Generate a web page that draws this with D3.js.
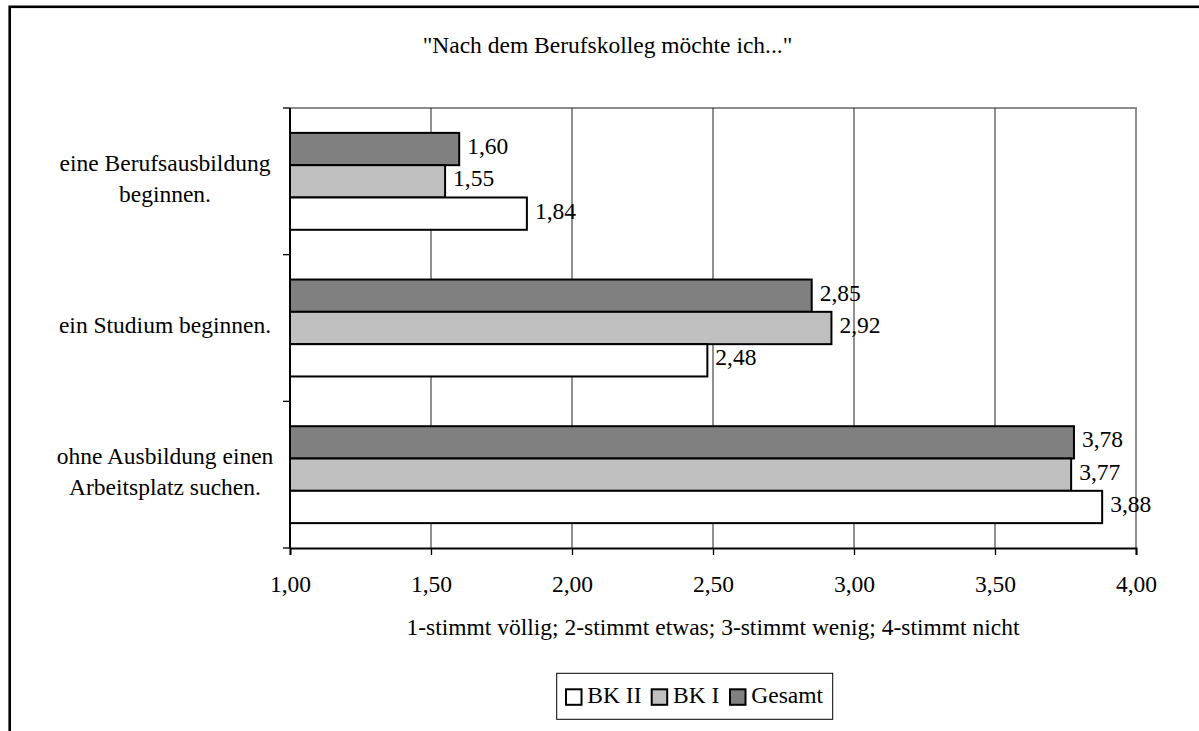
<!DOCTYPE html>
<html>
<head>
<meta charset="utf-8">
<script src="https://cdn.jsdelivr.net/npm/d3@7"></script>
<style>
  html, body { margin: 0; padding: 0; background: #fff; }
  svg { display: block; }
  text { font-family: "Liberation Serif", "Times New Roman", serif; fill: #000; }
</style>
</head>
<body>
<svg id="chart" width="1199" height="731"></svg>
<script>
// Survey answers: "Nach dem Berufskolleg möchte ich..."
const categories = [
  "eine Berufsausbildung beginnen.",
  "ein Studium beginnen.",
  "ohne Ausbildung einen Arbeitsplatz suchen."
];
const categoryLines = [
  ["eine Berufsausbildung", "beginnen."],
  ["ein Studium beginnen."],
  ["ohne Ausbildung einen", "Arbeitsplatz suchen."]
];
const seriesNames = ["Gesamt", "BK I", "BK II"];
const gesamt = [1.60, 2.85, 3.78];
const bk1 = [1.55, 2.92, 3.77];
const bk2 = [1.84, 2.48, 3.88];
const xTicks = [1.0, 1.5, 2.0, 2.5, 3.0, 3.5, 4.0];
const legendOrder = ["BK II", "BK I", "Gesamt"];

const seriesValues = { "Gesamt": gesamt, "BK I": bk1, "BK II": bk2 };
const seriesFill = { "Gesamt": "#808080", "BK I": "#c0c0c0", "BK II": "#ffffff" };

const fmt = v => d3.format(".2f")(v).replace(".", ",");
const FS = 23.5;

const svg = d3.select("#chart");

// outer frame (open to the right and bottom)
svg.append("rect")
  .attr("x", 9.7).attr("y", 6.8)
  .attr("width", 1300).attr("height", 900)
  .attr("fill", "none").attr("stroke", "#000").attr("stroke-width", 2.6);

const plot = { left: 290, right: 1136, top: 108, bottom: 548 };

const x = d3.scaleLinear().domain([1, 4]).range([plot.left, plot.right]);
const y = d3.scaleBand().domain(categories).range([plot.top, plot.bottom]).padding(0);
const ySeries = d3.scaleBand().domain(seriesNames).range([0, y.bandwidth()])
  .paddingInner(0).paddingOuter(0.77);

// plot area border (top & right)
svg.append("path")
  .attr("d", `M${plot.left},${plot.top}H${plot.right}V${plot.bottom}`)
  .attr("fill", "none").attr("stroke", "#8c8c8c").attr("stroke-width", 2);

// vertical gridlines
svg.append("g").selectAll("line")
  .data(xTicks.slice(1, -1))
  .join("line")
  .attr("x1", d => x(d)).attr("x2", d => x(d))
  .attr("y1", plot.top).attr("y2", plot.bottom)
  .attr("stroke", "#222").attr("stroke-width", 1);

// bars with value labels
categories.forEach((cat, i) => {
  const g = svg.append("g").attr("transform", `translate(0,${y(cat)})`);
  seriesNames.forEach(s => {
    const v = seriesValues[s][i];
    g.append("rect")
      .attr("x", x(1))
      .attr("y", ySeries(s))
      .attr("width", x(v) - x(1))
      .attr("height", ySeries.bandwidth())
      .attr("fill", seriesFill[s])
      .attr("stroke", "#000").attr("stroke-width", 2);
    g.append("text")
      .attr("x", x(v) + 8)
      .attr("y", ySeries(s) + ySeries.bandwidth() / 2 + 5)
      .attr("font-size", FS)
      .text(fmt(v));
  });
});

// x axis
const xAxis = d3.axisBottom(x).tickValues(xTicks).tickSize(7).tickFormat(fmt);
const gx = svg.append("g").attr("transform", `translate(0,${plot.bottom})`).call(xAxis);
gx.select(".domain").attr("stroke", "#000").attr("stroke-width", 2);
gx.selectAll(".tick line").attr("stroke", "#000").attr("stroke-width", 1.3);
gx.selectAll(".tick text")
  .attr("font-size", FS)
  .attr("y", 44).attr("dy", null);

// y axis: ticks at category boundaries
const yBounds = categories.map(c => y(c)).concat([plot.bottom]);
svg.append("line")
  .attr("x1", plot.left).attr("x2", plot.left)
  .attr("y1", plot.top).attr("y2", plot.bottom)
  .attr("stroke", "#000").attr("stroke-width", 2);
svg.append("g").selectAll("line")
  .data(yBounds)
  .join("line")
  .attr("x1", plot.left - 7).attr("x2", plot.left)
  .attr("y1", d => d).attr("y2", d => d)
  .attr("stroke", "#000").attr("stroke-width", 1.3);

// category labels
categories.forEach((cat, i) => {
  const lines = categoryLines[i];
  const cy = y(cat) + y.bandwidth() / 2;
  const t = svg.append("text")
    .attr("text-anchor", "middle")
    .attr("font-size", FS);
  lines.forEach((ln, j) => {
    t.append("tspan")
      .attr("x", 165)
      .attr("y", cy + 5 - (lines.length - 1) * 15.25 + j * 30.5)
      .text(ln);
  });
});

// title
svg.append("text")
  .attr("x", 607.5).attr("y", 53)
  .attr("text-anchor", "middle").attr("font-size", FS)
  .text("\"Nach dem Berufskolleg möchte ich...\"");

// axis title
svg.append("text")
  .attr("x", (plot.left + plot.right) / 2).attr("y", 635)
  .attr("text-anchor", "middle").attr("font-size", FS)
  .text("1-stimmt völlig; 2-stimmt etwas; 3-stimmt wenig; 4-stimmt nicht");

// legend
const legend = svg.append("g");
legend.append("rect")
  .attr("x", 556.7).attr("y", 673.3).attr("width", 276).attr("height", 46)
  .attr("fill", "#fff").attr("stroke", "#000").attr("stroke-width", 1);
const legendX = { "BK II": 566, "BK I": 651.7, "Gesamt": 730 };
legendOrder.forEach(s => {
  legend.append("rect")
    .attr("x", legendX[s]).attr("y", 689.3).attr("width", 15.5).attr("height", 15.5)
    .attr("fill", seriesFill[s]).attr("stroke", "#000").attr("stroke-width", 2);
  legend.append("text")
    .attr("x", legendX[s] + 21.3).attr("y", 703)
    .attr("font-size", FS)
    .text(s);
});
</script>
</body>
</html>
